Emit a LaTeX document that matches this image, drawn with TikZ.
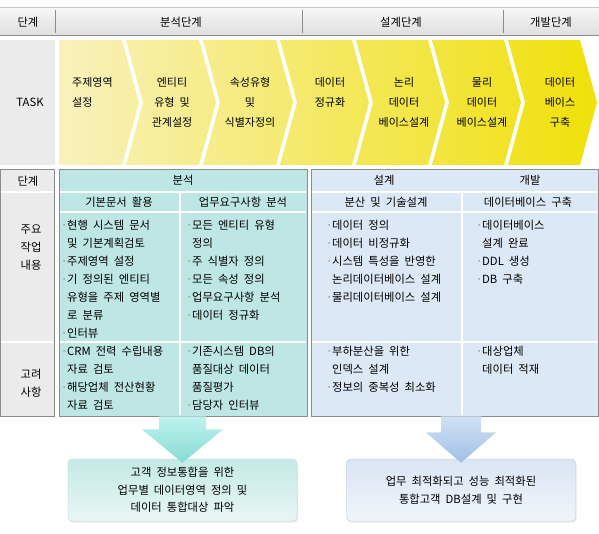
\documentclass[tikz,border=0pt]{standalone}
\usepackage{fontspec}
\setmainfont{Noto Sans CJK KR}[WordSpace=2]
\usepackage{xcolor}
\usepackage{tikz}
\usetikzlibrary{calc, shadows}
\definecolor{hdrtop}{RGB}{248,248,248}
\definecolor{hdrbot}{RGB}{222,222,222}
\definecolor{hdrlight}{RGB}{200,200,200}
\definecolor{hdrdark}{RGB}{140,140,140}
\definecolor{cellgray}{RGB}{235,235,235}
\definecolor{yelA}{RGB}{248,241,188}
\definecolor{yelB}{RGB}{240,224,8}
\definecolor{tealbg}{RGB}{190,230,228}
\definecolor{bluebg}{RGB}{221,232,246}
\definecolor{tblline}{RGB}{140,140,140}
\definecolor{bulgray}{RGB}{130,130,130}
\definecolor{arrtealA}{RGB}{190,242,237}
\definecolor{arrtealB}{RGB}{135,219,212}
\definecolor{arrblueA}{RGB}{208,225,244}
\definecolor{arrblueB}{RGB}{160,192,228}
\definecolor{boxtealA}{RGB}{196,234,229}
\definecolor{boxtealB}{RGB}{232,246,244}
\definecolor{boxblueA}{RGB}{218,229,244}
\definecolor{boxblueB}{RGB}{240,245,251}
\definecolor{boxline}{RGB}{200,210,210}
\newcommand{\cbul}{\makebox[6pt][l]{\textcolor{bulgray}{·}}}
\newcommand{\cind}{\hspace*{6pt}}

\begin{document}
\begin{tikzpicture}[x=1pt, y=-1pt, every node/.style={font=\fontsize{11.3}{18}\selectfont, inner sep=0pt}]
\useasboundingbox (0,0) rectangle (599,534);
\shade[top color=hdrtop, bottom color=hdrbot] (0,7) rectangle (599,36);
\draw[hdrlight] (0,7) -- (599,7);
\draw[hdrdark, line width=1pt] (0,36) -- (599,36);
\foreach \x in {55,302,503} { \draw[hdrdark] (\x,10) -- (\x,33); }
\node (hStep) at (28,22) {단계};
\node (hAna) at (181,22) {분석단계};
\node (hDes) at (401,22) {설계단계};
\node (hDev) at (551,22) {개발단계};
\fill[cellgray] (0,40) rectangle (55,165);
\node (task) at (30,102) {TASK};
\foreach \xa/\xb/\d in {59/122/0, 126/199/17, 203/276/17, 280/352/17, 356/428/17, 432/504/17, 508/580/17} {
  \pgfmathtruncatemacro{\pa}{(\xa-59)/5.38}
  \pgfmathtruncatemacro{\pb}{(\xb+17-59)/5.38}
  \shade[left color=yelB!\pa!yelA, right color=yelB!\pb!yelA] (\xa,40) -- (\xb,40) -- (\xb+17,102.5) -- (\xb,165) -- (\xa,165) -- (\xa+\d,102.5) -- cycle;
}
\begin{scope}[every node/.style={font=\fontsize{11}{20}\selectfont, inner sep=0pt}]
\node (t1) [align=left, anchor=west] at (72,92) {주제영역\\설정};
\node (t2) [align=center] at (172,102) {엔티티\\유형 및\\관계설정};
\node (t3) [align=center] at (250,102) {속성유형\\및\\식별자정의};
\node (t4) [align=center] at (330,92) {데이터\\정규화};
\node (t5) [align=center] at (404,102) {논리\\데이터\\베이스설계};
\node (t6) [align=center] at (482,102) {물리\\데이터\\베이스설계};
\node (t7) [align=center] at (560,102) {데이터\\베이스\\구축};
\end{scope}
\node (stepCol) [draw=tblline, fill=cellgray, minimum width=54, minimum height=247, anchor=north west] at (0,169) {};
\draw[white, line width=1.2pt] (0.6,192) -- (53.4,192) (0.6,342) -- (53.4,342);
\node (lStep) at (28,181) {단계};
\node (lWork) [align=center] at (31,248) {주요\\작업\\내용};
\node (lCons) [align=center] at (31,383) {고려\\사항};
\node (anaPanel) [draw=tblline, fill=tealbg, minimum width=248, minimum height=247, anchor=north west] at (59,169) {};
\node (desPanel) [draw=tblline, fill=bluebg, minimum width=287, minimum height=247, anchor=north west] at (311,169) {};
\foreach \xl/\xr/\xm in {59/307/180, 311/598/462} {
  \draw[white, line width=1.2pt] (\xl+0.6,192) -- (\xr-0.6,192) (\xl+0.6,212) -- (\xr-0.6,212) (\xl+0.6,342) -- (\xr-0.6,342) (\xm,192) -- (\xm,415.4);
}
\node (hAnaT) at (183,180) {분석};
\node (hDesT) at (384,180) {설계};
\node (hDevT) at (530,180) {개발};
\node (sDoc) at (119,202) {기본문서 활용};
\node (sReq) at (243,202) {업무요구사항 분석};
\node (sDist) at (386,202) {분산 및 기술설계};
\node (sBuild) at (528,202) {데이터베이스 구축};
\node (wDoc) [align=left, anchor=north west] at (61,220) {\cbul 현행 시스템 문서\\\cind 및 기본계획검토\\\cbul 주제영역 설정\\\cbul 기 정의된 엔티티\\\cind 유형을 주제 영역별\\\cind 로 분류\\\cbul 인터뷰};
\node (wReq) [align=left, anchor=north west] at (186,220) {\cbul 모든 엔티티 유형\\\cind 정의\\\cbul 주 식별자 정의\\\cbul 모든 속성 정의\\\cbul 업무요구사항 분석\\\cbul 데이터 정규화};
\node (wDist) [align=left, anchor=north west] at (326,220) {\cbul 데이터 정의\\\cbul 데이터 비정규화\\\cbul 시스템 특성을 반영한\\\cind 논리데이터베이스 설계\\\cbul 물리데이터베이스 설계};
\node (wBuild) [align=left, anchor=north west] at (476,220) {\cbul 데이터베이스\\\cind 설계 완료\\\cbul DDL 생성\\\cbul DB 구축};
\node (cDoc) [align=left, anchor=north west] at (61,346) {\cbul CRM 전력 수립내용\\\cind 자료 검토\\\cbul 해당업체 전산현황\\\cind 자료 검토};
\node (cReq) [align=left, anchor=north west] at (186,346) {\cbul 기존시스템 DB의\\\cind 품질대상 데이터\\\cind 품질평가\\\cbul 담당자 인터뷰};
\node (cDist) [align=left, anchor=north west] at (326,346) {\cbul 부하분산을 위한\\\cind 인덱스 설계\\\cbul 정보의 중복성 최소화};
\node (cBuild) [align=left, anchor=north west] at (476,346) {\cbul 대상업체\\\cind 데이터 적재};
\node (goalA) [rounded corners=4, draw=boxline, top color=boxtealA, bottom color=boxtealB, drop shadow={opacity=0.2, shadow xshift=1pt, shadow yshift=-1.5pt}, minimum width=229, minimum height=62, align=center, font=\fontsize{11.3}{17.5}\selectfont] at (182.5,490) {고객 정보통합을 위한\\업무별 데이터영역 정의 및\\데이터 통합대상 파악};
\node (goalB) [rounded corners=4, draw=boxline, top color=boxblueA, bottom color=boxblueB, drop shadow={opacity=0.2, shadow xshift=1pt, shadow yshift=-1.5pt}, minimum width=229, minimum height=62, align=center, font=\fontsize{11.3}{18}\selectfont] at (461,490) {업무 최적화되고 성능 최적화된\\통합고객 DB설계 및 구현};
\coordinate (aTop) at (goalA.north |- anaPanel.south);
\coordinate (bTop) at (goalB.north |- desPanel.south);
\shade[top color=arrtealA, bottom color=arrtealB] ($(aTop)+(-23.5,0)$) -- ($(aTop)+(23.5,0)$) -- ($(aTop)+(23.5,13)$) -- ($(aTop)+(40.5,13)$) -- ($(goalA.north)+(0,4)$) -- ($(aTop)+(-40.5,13)$) -- ($(aTop)+(-23.5,13)$) -- cycle;
\shade[top color=arrblueA, bottom color=arrblueB] ($(bTop)+(-20,0)$) -- ($(bTop)+(20,0)$) -- ($(bTop)+(20,16)$) -- ($(bTop)+(35,16)$) -- ($(goalB.north)+(0,4)$) -- ($(bTop)+(-35,16)$) -- ($(bTop)+(-20,16)$) -- cycle;
\end{tikzpicture}
\end{document}
